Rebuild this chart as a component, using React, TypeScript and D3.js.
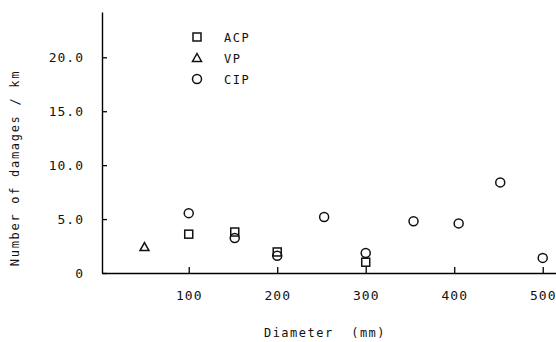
import * as d3 from "d3";
import { useEffect, useRef } from "react";

const acpDiam = [100, 152, 200, 300];
const acpDamage = [3.6, 3.8, 1.95, 1.0];
const vpDiam = [50];
const vpDamage = [2.4];
const cipDiam = [100, 152, 200, 253, 300, 354, 405, 452, 500];
const cipDamage = [5.55, 3.25, 1.6, 5.2, 1.85, 4.8, 4.6, 8.4, 1.4];
const xTicks = [100, 200, 300, 400, 500];
const yTicks = [0, 5, 10, 15, 20];
const legendLabels = ["ACP", "VP", "CIP"];

export default function App() {
  const svgRef = useRef<SVGSVGElement | null>(null);
  const width = 556;
  const height = 342;

  useEffect(() => {
    if (!svgRef.current) return;
    const svg = d3.select(svgRef.current);
    svg.selectAll("*").remove();

    const font = "'DejaVu Sans Mono', monospace";

    const x = d3.scaleLinear().domain([2, 515]).range([102, 556]);
    const y = d3.scaleLinear().domain([0, 24.2]).range([273, 12]);

    // x axis, ticks pointing up into the plot
    const gx = svg
      .append("g")
      .attr("transform", `translate(0, ${y(0)})`)
      .call(
        d3
          .axisBottom(x)
          .tickValues(xTicks)
          .tickSizeInner(-6)
          .tickSizeOuter(0)
          .tickPadding(18)
      );
    gx.select(".domain").attr("stroke-width", 1.4);
    gx.selectAll(".tick line").attr("stroke-width", 1.3);
    gx.selectAll("text")
      .attr("font-family", font)
      .attr("font-size", 13)
      .attr("letter-spacing", 1)
      .attr("fill", "#111");

    // y axis, ticks pointing right
    const gy = svg
      .append("g")
      .attr("transform", `translate(${x(2)}, 0)`)
      .call(
        d3
          .axisLeft(y)
          .tickValues(yTicks)
          .tickFormat((d) => (d === 0 ? "0" : d3.format(".1f")(d as number)))
          .tickSizeInner(-5)
          .tickSizeOuter(0)
          .tickPadding(18)
      );
    gy.select(".domain").attr("stroke-width", 1.4);
    gy.selectAll(".tick line").attr("stroke-width", 1.3);
    gy.selectAll("text")
      .attr("font-family", font)
      .attr("font-size", 13)
      .attr("letter-spacing", 1)
      .attr("fill", "#111");

    // axis titles
    svg
      .append("text")
      .attr("x", 325)
      .attr("y", 337)
      .attr("text-anchor", "middle")
      .attr("font-family", font)
      .attr("font-size", 12)
      .attr("letter-spacing", 1.5)
      .attr("fill", "#111")
      .attr("xml:space", "preserve")
      .text("Diameter  (mm)");

    svg
      .append("text")
      .attr("transform", `translate(19, 168) rotate(-90)`)
      .attr("text-anchor", "middle")
      .attr("font-family", font)
      .attr("font-size", 12)
      .attr("letter-spacing", 1.7)
      .attr("fill", "#111")
      .text("Number of damages / km");

    const stroke = "#111";
    const sw = 1.5;

    const square = (g: any, cx: number, cy: number) =>
      g
        .append("rect")
        .attr("x", cx - 4)
        .attr("y", cy - 4)
        .attr("width", 8)
        .attr("height", 8)
        .attr("fill", "none")
        .attr("stroke", stroke)
        .attr("stroke-width", sw);
    const tri = (g: any, cx: number, cy: number) =>
      g
        .append("path")
        .attr("d", `M${cx},${cy - 4.5}L${cx + 4.5},${cy + 3.5}L${cx - 4.5},${cy + 3.5}Z`)
        .attr("fill", "none")
        .attr("stroke", stroke)
        .attr("stroke-width", sw);
    const circ = (g: any, cx: number, cy: number) =>
      g
        .append("circle")
        .attr("cx", cx)
        .attr("cy", cy)
        .attr("r", 4.5)
        .attr("fill", "none")
        .attr("stroke", stroke)
        .attr("stroke-width", sw);

    const marks = svg.append("g");
    cipDiam.forEach((d, i) => circ(marks, x(d), y(cipDamage[i])));
    acpDiam.forEach((d, i) => square(marks, x(d), y(acpDamage[i])));
    vpDiam.forEach((d, i) => tri(marks, x(d), y(vpDamage[i])));

    // legend
    const lg = svg.append("g");
    const shapes = [square, tri, circ];
    legendLabels.forEach((label, i) => {
      const cy = 37 + i * 21;
      shapes[i](lg, 197, cy);
      lg.append("text")
        .attr("x", 224)
        .attr("y", cy + 5)
        .attr("font-family", font)
        .attr("font-size", 12)
        .attr("letter-spacing", 1.5)
        .attr("fill", "#111")
        .text(label);
    });
  }, [svgRef]);

  return (
    <svg
      ref={svgRef}
      width={width}
      height={height}
      style={{ position: "absolute", left: 0, top: 0, background: "#fff" }}
    />
  );
}
